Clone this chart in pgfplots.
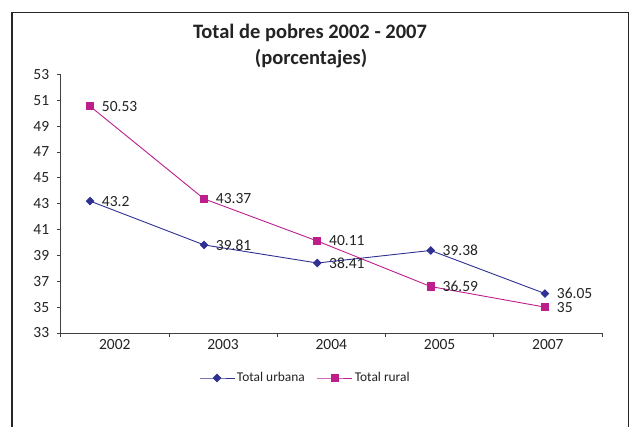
\documentclass[border=0pt]{standalone}
\usepackage{pgfplots}
\pgfplotsset{compat=1.18}
\usepackage{fontspec}
\setmainfont{Carlito}
\definecolor{urb}{RGB}{46,49,146}
\definecolor{rur}{RGB}{190,30,140}
\definecolor{txt}{RGB}{35,35,35}
\begin{document}
\begin{tikzpicture}[x=1pt,y=1pt]
\useasboundingbox (0,0) rectangle (630,427);
\draw[line width=1.5pt,black!85] (12,0) -- (12,414.5) -- (628.3,414.5) -- (628.3,0);
\node[anchor=base,font=\fontsize{20.5}{24}\selectfont\bfseries,text=txt] at (310,388.7) {Total de pobres 2002 - 2007};
\node[anchor=base,font=\fontsize{20.5}{24}\selectfont\bfseries,text=txt] at (311,362) {(porcentajes)};
\begin{axis}[
  at={(60.7pt,94pt)}, anchor=south west,
  scale only axis, width=541.3pt, height=258.7pt,
  xmin=-0.5, xmax=4.5, ymin=33, ymax=53,
  axis lines*=left,
  axis line style={black!75, line width=0.9pt},
  tick align=outside,
  tick style={black!75, line width=0.8pt},
  major tick length=4pt, minor tick length=4pt,
  xtick={0,1,2,3,4},
  xticklabels={2002,2003,2004,2005,2007},
  major x tick style={draw=none},
  minor xtick={-0.5,0.5,1.5,2.5,3.5,4.5},
  ytick={33,35,...,53},
  /pgf/number format/assume math mode=true,
  tick label style={font=\fontsize{15.5}{18}\selectfont, text=txt},
  yticklabel style={xshift=-4pt},
  xticklabel style={yshift=1pt},
  clip=false,
  legend style={at={(0.452,-0.174)}, anchor=center, draw=none,
    font=\fontsize{13.4}{16}\selectfont, text=txt,
    /tikz/every even column/.append style={column sep=10pt}},
  legend columns=2,
  legend image code/.code={\draw[mark repeat=2,mark phase=2,#1] plot coordinates {(0pt,0pt) (17.5pt,0pt) (35pt,0pt)};},
  nodes near coords,
  point meta=explicit symbolic,
  every node near coord/.append style={anchor=west, inner sep=0pt, xshift=11.5pt, font=\fontsize{15.5}{18}\selectfont, text=txt},
]
\addplot[urb, line width=0.9pt, mark=square*, mark size=2.6pt, mark options={rotate=45}]
  table[meta=lab] {
x y lab
-0.229 43.2 43.2
0.824 39.81 39.81
1.870 38.41 38.41
2.918 39.38 39.38
3.973 36.05 36.05
};
\addlegendentry{Total urbana}
\addplot[rur, line width=0.9pt, mark=square*, mark size=3.65pt]
  table[meta=lab] {
x y lab
-0.229 50.53 50.53
0.824 43.37 43.37
1.870 40.11 40.11
2.918 36.59 36.59
3.973 35 35
};
\addlegendentry{Total rural}
\end{axis}
\end{tikzpicture}
\end{document}
